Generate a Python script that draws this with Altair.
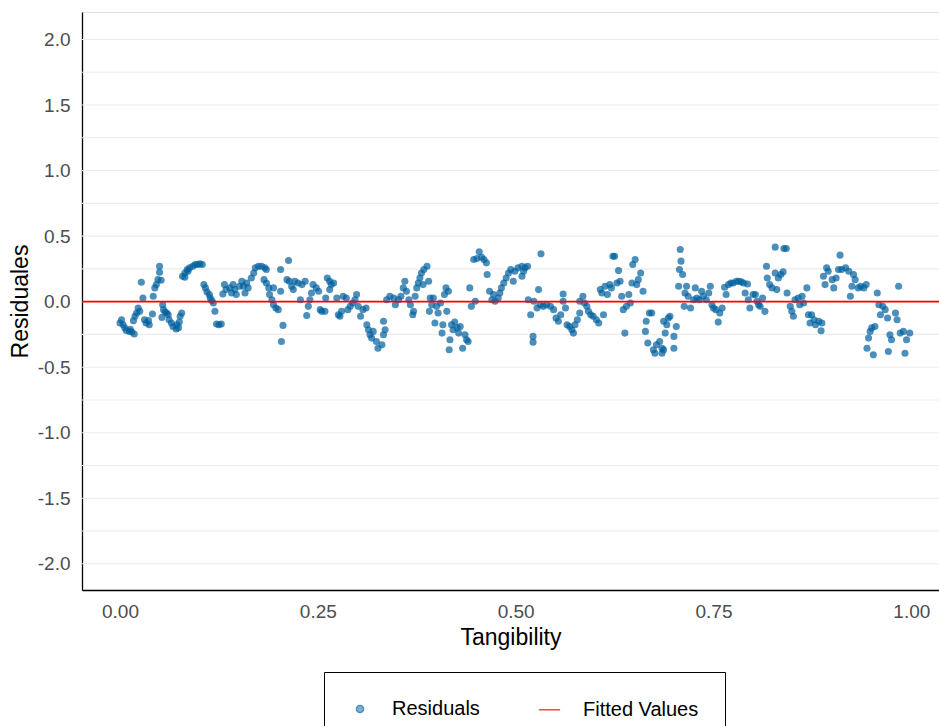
import altair as alt
import pandas as pd

# Residuals (Tangibility, Residual)
tang = [
0.002,0.000,0.004,0.006,0.008,0.012,0.015,0.018,0.013,0.017,0.019,0.021,0.023,0.025,0.027,0.029,0.031,0.033,0.037,0.036,
0.041,0.042,0.044,0.046,0.048,0.050,0.050,0.052,0.054,0.055,0.057,0.053,0.059,0.061,0.062,0.065,0.067,0.071,0.074,0.075,
0.076,0.078,0.072,0.079,0.082,0.085,0.088,0.092,0.095,0.098,0.101,0.104,0.082,0.086,0.106,0.108,0.110,0.113,0.114,0.116,
0.118,0.120,0.122,0.125,0.128,0.130,0.132,0.134,0.139,0.141,0.143,0.145,0.147,0.151,
0.154,0.156,0.158,0.160,0.162,0.166,0.169,0.171,0.175,0.179,0.183,0.185,0.182,0.185,0.188,0.189,0.192,0.194,0.197,0.200,
0.194,0.203,0.206,0.204,0.203,0.213,0.211,0.214,0.217,0.219,0.221,0.225,0.230,0.228,0.234,0.236,0.238,0.240,0.242,0.244,
0.248,0.251,0.253,0.255,0.259,0.260,0.262,0.265,0.267,0.270,0.265,0.274,0.276,0.278,0.280,0.282,0.286,0.288,0.291,0.294,
0.297,0.299,0.301,0.304,0.307,0.311,0.312,0.314,0.316,0.318,0.320,0.324,0.326,0.331,0.333,
0.333,0.335,0.337,0.341,0.346,0.348,0.352,0.355,0.358,0.360,0.362,0.365,0.367,0.370,0.371,0.373,0.375,0.377,0.379,0.381,
0.384,0.388,0.390,0.383,0.392,0.391,0.394,0.396,0.398,0.400,0.402,0.405,0.407,0.408,0.410,0.412,0.413,0.415,0.417,0.416,
0.419,0.421,0.423,0.426,0.428,0.430,0.433,0.436,0.438,0.440,0.442,0.444,0.449,0.447,0.451,0.454,0.457,0.460,0.463,0.464,
0.467,0.470,0.472,0.474,0.478,0.480,0.482,0.485,0.488,0.491,0.494,0.497,0.499,0.503,0.508,0.510,
0.508,0.512,0.515,0.516,0.519,0.522,0.522,0.523,0.529,0.532,0.527,0.531,0.535,0.539,0.544,0.548,0.551,0.554,0.557,0.560,
0.560,0.563,0.565,0.568,0.571,0.573,0.575,0.578,0.581,0.581,0.585,0.587,0.590,0.592,0.595,0.598,0.602,0.605,0.607,0.609,
0.611,0.613,0.616,0.619,0.621,0.623,0.625,0.628,0.630,0.632,0.634,0.636,0.638,0.640,0.643,0.645,0.647,0.648,0.651,0.653,
0.655,0.658,0.661,0.665,0.664,0.667,0.669,0.672,0.674,0.676,0.678,0.682,0.685,0.687,
0.685,0.687,0.689,0.691,0.693,0.695,0.700,0.700,0.703,0.706,0.708,0.709,0.707,0.711,0.713,0.714,0.716,0.718,0.721,0.725,
0.727,0.729,0.732,0.735,0.737,0.741,0.744,0.746,0.748,0.750,0.753,0.756,0.758,0.761,0.764,0.766,0.769,0.772,0.775,0.779,
0.782,0.785,0.788,0.793,0.790,0.794,0.796,0.800,0.803,0.805,0.807,0.809,0.812,0.815,0.817,0.818,0.821,0.824,0.828,0.828,
0.830,0.832,0.835,0.838,0.839,0.842,0.843,0.847,0.849,0.851,0.853,0.857,0.859,
0.862,0.864,0.868,0.870,0.872,0.874,0.877,0.879,0.883,0.886,0.887,0.889,0.891,0.893,0.895,0.900,0.902,0.905,0.908,0.910,
0.912,0.917,0.921,0.923,0.925,0.927,0.929,0.933,0.936,0.940,0.943,0.944,0.946,0.948,0.950,0.952,0.954,0.957,0.959,0.961,
0.964,0.967,0.970,0.971,0.973,0.975,0.980,0.982,0.984,0.986,0.990,0.992,0.994,0.998,
]
resid = [
-0.138,-0.163,-0.176,-0.200,-0.220,-0.227,-0.232,-0.247,-0.210,-0.145,-0.112,-0.087,-0.048,-0.074,0.148,0.028,-0.138,-0.163,-0.176,-0.145,
-0.094,0.041,0.105,0.130,0.168,0.224,0.270,0.163,-0.023,-0.061,-0.079,-0.120,-0.087,-0.100,-0.138,-0.163,-0.189,-0.209,-0.200,-0.156,
-0.112,-0.087,-0.176,0.194,0.219,0.245,0.258,0.270,0.283,0.283,0.288,0.283,0.186,0.232,0.130,0.105,0.074,0.054,0.028,0.008,
-0.010,-0.074,-0.171,-0.176,-0.171,0.059,0.130,0.092,0.105,0.066,0.130,0.092,0.054,0.117,
0.156,0.117,0.066,0.143,0.105,0.181,0.219,0.258,0.270,0.270,0.258,0.245,0.168,0.143,0.105,0.054,0.015,-0.023,-0.048,-0.061,
0.105,0.079,-0.181,-0.304,0.245,0.314,0.168,0.156,0.117,0.092,0.156,0.143,0.130,0.015,0.156,-0.105,-0.036,0.015,0.066,0.130,
0.105,0.079,-0.061,-0.074,-0.074,0.028,0.181,0.156,0.130,0.143,0.092,0.028,-0.100,-0.112,-0.074,0.041,0.028,-0.061,-0.036,-0.010,
0.015,0.054,-0.036,-0.112,-0.061,-0.048,-0.176,-0.214,-0.253,-0.278,-0.227,-0.304,-0.355,-0.329,-0.253,
-0.150,-0.214,0.015,0.041,0.028,-0.023,0.015,0.041,0.105,0.156,0.079,0.015,-0.023,-0.100,-0.074,0.041,0.105,0.143,0.181,0.219,
0.245,0.270,0.156,0.130,0.028,-0.074,-0.023,0.028,-0.163,-0.036,-0.087,-0.010,-0.240,-0.176,0.054,0.105,-0.074,0.079,-0.290,-0.367,
-0.176,-0.214,-0.156,-0.200,-0.240,-0.189,-0.355,-0.253,-0.290,-0.304,0.105,-0.036,0.003,0.321,0.329,0.380,0.339,0.321,0.296,0.207,
0.079,0.015,0.054,0.003,0.028,0.066,0.105,0.143,0.181,0.219,0.245,0.156,0.232,0.258,0.270,0.232,
0.194,0.258,0.270,0.015,-0.100,-0.265,-0.309,0.003,0.092,0.365,-0.048,-0.023,-0.036,-0.023,-0.036,-0.061,-0.125,-0.150,-0.100,0.003,
0.059,-0.048,-0.176,-0.189,-0.214,-0.240,-0.176,-0.138,-0.087,0.003,0.041,-0.010,-0.036,-0.074,-0.100,-0.112,-0.138,-0.163,0.092,0.066,
-0.100,0.117,0.054,0.130,0.105,0.347,0.347,0.143,0.237,0.156,0.041,-0.061,-0.240,-0.036,0.054,-0.010,0.143,0.283,0.321,0.130,
0.168,0.219,0.079,-0.150,-0.227,-0.316,-0.087,-0.087,-0.367,-0.393,-0.329,-0.304,-0.355,-0.150,
-0.393,-0.367,-0.240,-0.176,-0.125,-0.112,-0.265,-0.355,-0.189,0.117,0.398,0.309,0.245,0.207,-0.036,0.066,0.117,0.041,-0.048,0.015,
0.105,0.028,0.015,0.079,0.041,0.015,0.066,0.117,-0.023,-0.048,-0.061,-0.156,-0.087,-0.048,0.110,0.054,0.130,0.143,0.143,0.156,
0.156,0.151,0.143,0.135,0.066,0.015,-0.048,0.054,0.054,0.003,-0.023,-0.036,0.028,-0.074,0.270,0.181,0.130,0.105,0.416,0.219,
0.092,0.181,0.207,0.227,0.406,0.406,0.066,-0.036,-0.074,-0.112,0.015,0.028,-0.023,
0.041,-0.010,0.105,-0.100,-0.163,-0.100,-0.138,-0.176,-0.150,-0.222,-0.163,0.194,0.130,0.258,0.232,0.168,0.105,0.181,0.245,0.355,
0.245,0.258,0.232,0.041,0.117,0.207,0.168,0.105,0.117,0.105,0.130,-0.355,-0.278,-0.227,-0.200,-0.406,-0.189,0.066,-0.023,-0.100,
-0.036,-0.061,-0.125,-0.380,-0.253,-0.290,-0.087,-0.138,0.117,-0.240,-0.227,-0.393,-0.290,-0.240,
]

series_names = ["Residuals", "Fitted Values"]
series_colors = ["#005F9E", "#FF0000"]
fitted_value = [0.0]

grid_values = [-2.0, -1.75, -1.5, -1.25, -1.0, -0.75, -0.5, -0.25, 0.0, 0.25, 0.5, 0.75, 1.0, 1.25, 1.5, 1.75, 2.0]
y_label_values = [-2.0, -1.5, -1.0, -0.5, 0.0, 0.5, 1.0, 1.5, 2.0]
x_ticks = [0.0, 0.25, 0.5, 0.75, 1.0]

n = min(len(tang), len(resid))
pts = pd.DataFrame({"x": tang[:n], "y": resid[:n], "series": "Residuals"})
fit = pd.DataFrame({"y": fitted_value, "series": "Fitted Values"})
grid = pd.DataFrame({"y": grid_values})

FONT = "Liberation Sans"

leg = alt.Legend(
    title=None,
    orient="none",
    legendX=242,
    legendY=660,
    direction="horizontal",
    strokeColor="black",
    padding=26,
    labelFontSize=20,
    labelFont=FONT,
    labelColor="black",
    labelOffset=22,
    columnPadding=55,
    symbolStrokeWidth=1.6,
)

xscale = alt.Scale(domain=[-0.048, 1.035], nice=False, zero=False)
yscale = alt.Scale(domain=[-2.2, 2.21], nice=False, zero=False)

xenc = alt.X("x:Q", scale=xscale, title="Tangibility",
             axis=alt.Axis(values=x_ticks, format=".2f", grid=False, ticks=False,
                           domainColor="black", domainWidth=1.3, labelPadding=12,
                           labelFontSize=19, labelColor="#4D4D4D", labelFont=FONT,
                           titleFontSize=23, titleFont=FONT, titleFontWeight="normal",
                           titleColor="black", titlePadding=5))
yenc = alt.Y("y:Q", scale=yscale, title="Residuales",
             axis=alt.Axis(values=y_label_values,
                           labelExpr="(datum.value < 0 ? '-' : '') + format(abs(datum.value), '.1f')",
                           grid=False, ticks=False,
                           domainColor="black", domainWidth=1.3, labelPadding=12,
                           labelFontSize=19, labelColor="#4D4D4D", labelFont=FONT,
                           titleFontSize=23, titleFont=FONT, titleFontWeight="normal",
                           titleColor="black", titlePadding=5))

gridlines = alt.Chart(grid).mark_rule(color="#EBEBEB", strokeWidth=1.1).encode(
    y=alt.Y("y:Q", scale=yscale, title="Residuales"),
)

points = alt.Chart(pts).mark_point(filled=True, opacity=0.7).encode(
    x=xenc,
    y=yenc,
    fill=alt.Fill("series:N", scale=alt.Scale(domain=series_names, range=series_colors), legend=leg),
    shape=alt.Shape("series:N", scale=alt.Scale(domain=series_names, range=["circle", "stroke"]), legend=leg),
    size=alt.Size("series:N", scale=alt.Scale(domain=series_names, range=[50, 450]), legend=leg),
)

rule = alt.Chart(fit).mark_rule(strokeWidth=1.7).encode(
    y=alt.Y("y:Q", scale=yscale, title="Residuales"),
    stroke=alt.Stroke("series:N", scale=alt.Scale(domain=series_names, range=series_colors), legend=leg),
)

chart = alt.layer(gridlines, points, rule).properties(
    width=857,
    height=578,
    autosize=alt.AutoSizeParams(type="none"),
    padding={"left": 82, "top": 12, "right": 0, "bottom": 146},
).configure_view(stroke=None).configure_legend(strokeWidth=1).configure(background="white")

chart.save("out.html", embed_options={"renderer": "svg", "actions": False})
